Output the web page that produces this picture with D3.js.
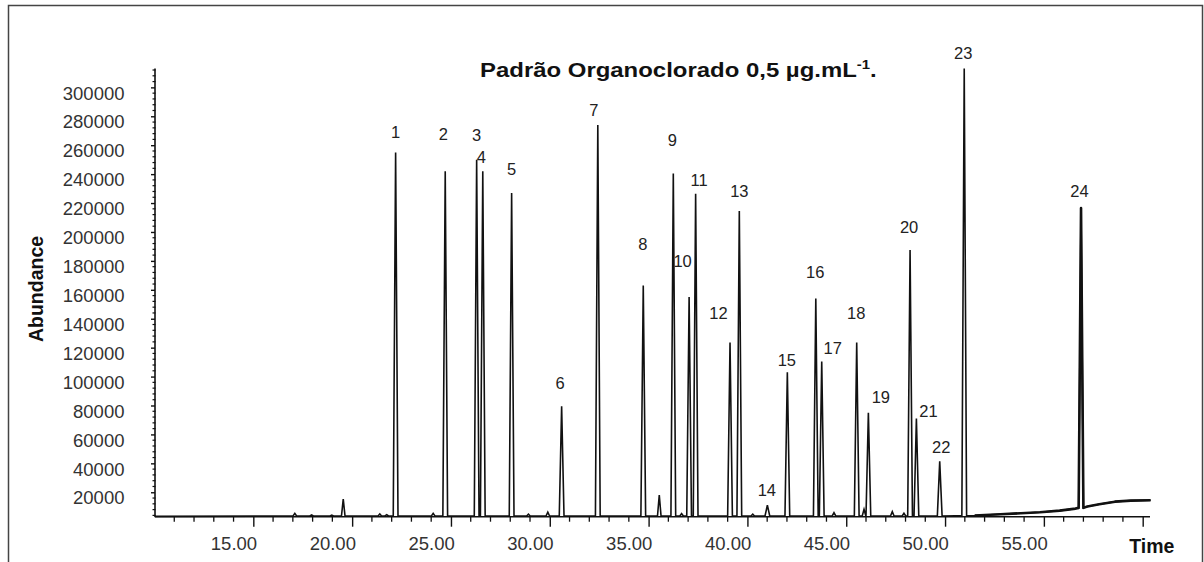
<!DOCTYPE html>
<html>
<head>
<meta charset="utf-8">
<script src="https://cdn.jsdelivr.net/npm/d3@7"></script>
<style>
  html, body { margin: 0; padding: 0; background: #fff; }
  svg { display: block; }
  text { font-family: "Liberation Sans", Arial, Helvetica, sans-serif; }
</style>
</head>
<body>
<svg id="chart" width="1204" height="562"></svg>
<script>
// Labelled compounds: retention time (min) and apex abundance
const peakLabels  = ["1","2","3","4","5","6","7","8","9","10","11","12",
                     "13","14","15","16","17","18","19","20","21","22","23","24"];
const peakTimes   = [22.20, 24.71, 26.30, 26.61, 28.07, 30.60, 32.43, 34.73,
                     36.25, 37.05, 37.38, 39.12, 39.59, 41.01, 42.02, 43.46,
                     43.76, 45.53, 46.12, 48.23, 48.55, 49.73, 50.97, 56.88];
const peakHeights = [255000, 242000, 250000, 242000, 227000, 79500, 274000, 163000,
                     240500, 155000, 226500, 123500, 214500, 11000, 103000, 154000,
                     110500, 123500, 75000, 187500, 71000, 41500, 313000, 216500];
const peakBase    = [3600, 3600, 3600, 3600, 3600, 3600, 3600, 3600,
                     3600, 3600, 3600, 3600, 3600, 3600, 3600, 3600,
                     3800, 3600, 3600, 3600, 3800, 3600, 3800, 9200];

// Small unlabelled peaks
const minorTimes   = [17.10, 17.95, 18.97, 19.55, 21.40, 21.75, 24.10, 28.92,
                      29.90, 35.54, 36.67, 40.27, 44.38, 45.90, 47.33, 47.92];
const minorHeights = [5400, 4300, 4200, 15200, 5000, 4500, 5400, 4800,
                      6200, 18100, 5200, 4800, 5900, 8200, 6600, 5500];

// Baseline level including the late-run drift
const baseTimes  = [10.0, 20.5, 30.0, 40.5, 50.5, 51.5, 52.8, 54.8,
                    55.8, 56.6, 57.2, 57.8, 58.6, 59.4, 60.4];
const baseValues = [3300, 3500, 3600, 3600, 3700, 3900, 4800, 6200,
                    7300, 8700, 10100, 11700, 13500, 14200, 14500];

// Axis ticks
const yTickValues = [20000, 40000, 60000, 80000, 100000, 120000, 140000, 160000,
                     180000, 200000, 220000, 240000, 260000, 280000, 300000];
const xTickValues = [15, 20, 25, 30, 35, 40, 45, 50, 55, 60];
const xTickLabels = ["15.00", "20.00", "25.00", "30.00", "35.00",
                     "40.00", "45.00", "50.00", "55.00", ""];

// Label placement relative to each apex (pixels)
const labelNudge = [[0,-20],[-2,-37],[0,-25],[-1.5,-14],[0,-24],[-1.5,-23],[-4,-15],[-0.5,-41],
                    [-1,-33],[-6.5,-36],[3.5,-14],[-11.5,-30],[0,-20],[-0.5,-15],[-0.5,-12],[-0.5,-26],
                    [11,-13.5],[-0.5,-30],[12.5,-15.5],[-1,-23],[12,-8],[1.5,-14.5],[-1,-16],[-1.5,-17.5]];

const svg = d3.select("#chart");
const plotLeft = 155, plotBottom = 516.7, plotTop = 69, plotRight = 1150;

const x = d3.scaleLinear().domain([10, 60.4]).range([154.5, 1150.6]);
const y = d3.scaleLinear().domain([3100, 312700]).range([plotBottom, plotTop]);

// Outer frame
svg.append("rect")
  .attr("x", 8.5).attr("y", 5.5).attr("width", 1194).attr("height", 600)
  .attr("fill", "none").attr("stroke", "#444").attr("stroke-width", 1.5);

// Title
const title = svg.append("text")
  .attr("font-weight", "bold").attr("font-size", 20).attr("fill", "#111");
title.append("tspan").text("Padrão Organoclorado 0,5 µg.mL");
title.append("tspan").attr("font-size", 12.5).attr("dy", -7.5).text("-1");
title.append("tspan").attr("dy", 7.5).text(".");
const tw = title.node().getComputedTextLength();
title.attr("transform", `translate(480,76.5) scale(${397 / tw},1)`);

// Y axis
const yMinor = d3.range(4000, 312001, 4000).filter(v => v % 20000 !== 0);
svg.append("g").attr("transform", `translate(${plotLeft},0)`)
  .selectAll("line").data(yMinor).join("line")
  .attr("x1", -2.5).attr("x2", 0.5)
  .attr("y1", d => y(d)).attr("y2", d => y(d))
  .attr("stroke", "#111").attr("stroke-width", 1.2);

const yAxis = svg.append("g")
  .attr("transform", `translate(${plotLeft},0)`)
  .call(d3.axisLeft(y).tickValues(yTickValues).tickSize(4).tickPadding(26.5)
        .tickFormat(d3.format("d")));
yAxis.select(".domain").remove();
yAxis.selectAll(".tick line").attr("stroke", "#111").attr("stroke-width", 1.4);
yAxis.selectAll(".tick text")
  .attr("dy", 0).attr("y", 11.7)
  .attr("font-size", 18.5).attr("fill", "#333")
  .attr("font-family", "Liberation Sans, Arial, sans-serif");
svg.append("line")
  .attr("x1", plotLeft).attr("x2", plotLeft).attr("y1", 68.5).attr("y2", plotBottom)
  .attr("stroke", "#111").attr("stroke-width", 1.6);

// X axis
const xMinor = d3.range(11, 61, 1).filter(v => v % 5 !== 0);
svg.append("g").attr("transform", `translate(0,${plotBottom})`)
  .selectAll("line").data(xMinor).join("line")
  .attr("x1", d => x(d)).attr("x2", d => x(d))
  .attr("y1", 0).attr("y2", 5)
  .attr("stroke", "#111").attr("stroke-width", 1.3);

const xAxis = svg.append("g")
  .attr("transform", `translate(0,${plotBottom})`)
  .call(d3.axisBottom(x).tickValues(xTickValues).tickSize(10)
        .tickFormat((d, i) => xTickLabels[i]));
xAxis.select(".domain").remove();
xAxis.selectAll(".tick line").attr("stroke", "#111").attr("stroke-width", 1.4);
xAxis.selectAll(".tick text")
  .attr("dy", 0).attr("y", 33.3).attr("x", 3.3)
  .attr("text-anchor", "end")
  .attr("font-size", 18.5).attr("fill", "#333")
  .attr("font-family", "Liberation Sans, Arial, sans-serif");
svg.append("line")
  .attr("x1", plotLeft).attr("x2", plotRight).attr("y1", plotBottom).attr("y2", plotBottom)
  .attr("stroke", "#111").attr("stroke-width", 1.6);

// Axis titles
svg.append("text")
  .attr("transform", "translate(42.5,289) rotate(-90)")
  .attr("text-anchor", "middle")
  .attr("font-weight", "bold").attr("font-size", 19.5).attr("fill", "#111")
  .text("Abundance");
svg.append("text")
  .attr("x", 1129.3).attr("y", 553.3)
  .attr("font-weight", "bold").attr("font-size", 19.5).attr("fill", "#111")
  .text("Time");

// Chromatogram trace: baseline knots plus a narrow spike per peak
const hw = 0.12, hwMinor = 0.09;
const pts = baseTimes.map((t, i) => ({ t, v: baseValues[i] }));
peakTimes.forEach((t, i) => {
  pts.push({ t: t - hw, v: peakBase[i] }, { t, v: peakHeights[i] }, { t: t + hw, v: peakBase[i] });
});
minorTimes.forEach((t, i) => {
  pts.push({ t: t - hwMinor, v: 3600 }, { t, v: minorHeights[i] }, { t: t + hwMinor, v: 3600 });
});
pts.sort((a, b) => a.t - b.t);

const line = d3.line().x(d => x(d.t)).y(d => y(d.v));
svg.append("path")
  .datum(pts)
  .attr("d", line)
  .attr("fill", "none").attr("stroke", "#111")
  .attr("stroke-width", 1.6).attr("stroke-linejoin", "miter");

// Late-run drift is drawn heavier (noisier signal)
svg.append("path")
  .datum(pts.filter(d => d.t >= 51.3))
  .attr("d", line)
  .attr("fill", "none").attr("stroke", "#111")
  .attr("stroke-width", 2.6).attr("stroke-linejoin", "round");

// Peak numbers
svg.append("g").selectAll("text").data(peakLabels).join("text")
  .attr("x", (d, i) => x(peakTimes[i]) + labelNudge[i][0])
  .attr("y", (d, i) => y(peakHeights[i]) + labelNudge[i][1] + 6)
  .attr("text-anchor", "middle")
  .attr("font-size", 16.5).attr("fill", "#222")
  .text(d => d);
</script>
</body>
</html>
